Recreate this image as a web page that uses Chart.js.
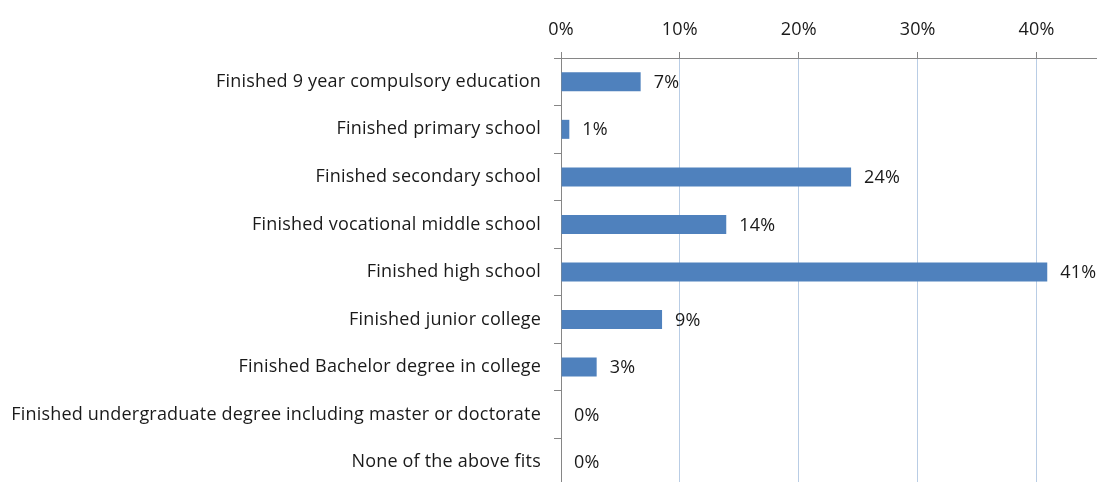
<!DOCTYPE html>
<html>
<head>
<meta charset="utf-8">
<script src="https://cdn.jsdelivr.net/npm/chart.js@4"></script>
<style>
  html, body { margin: 0; padding: 0; background: #fff; overflow: hidden; }
  #wrap { width: 1104px; height: 486px; }
</style>
</head>
<body>
<div id="wrap"><canvas id="myChart"></canvas></div>
<script>
// categories and values (percent)
const categories = [
  'Finished 9 year compulsory education',
  'Finished primary school',
  'Finished secondary school',
  'Finished vocational middle school',
  'Finished high school',
  'Finished junior college',
  'Finished Bachelor degree in college',
  'Finished undergraduate degree including master or doctorate',
  'None of the above fits'
];
const shares = [6.7, 0.7, 24.4, 13.9, 40.9, 8.5, 3.0, 0, 0];
const tickValues = [0, 10, 20, 30, 40];

const axisGray = '#868686';
const gridBlue = '#b9cde5';
const textFont = { family: 'Open Sans', size: 18 };

// a touch of letter spacing, the original text is set quite loose
const spacing = {
  id: 'spacing',
  beforeDraw(chart) { chart.ctx.letterSpacing = '0.2px'; }
};

// draws the value text just past the end of each bar
const valueLabels = {
  id: 'valueLabels',
  afterDatasetsDraw(chart) {
    const c = chart.ctx;
    const meta = chart.getDatasetMeta(0);
    c.save();
    c.font = textFont.size + 'px ' + textFont.family;
    c.fillStyle = '#1a1a1a';
    c.textBaseline = 'middle';
    meta.data.forEach(function(bar, i) {
      c.fillText(Math.round(shares[i]) + '%', bar.x + 13, bar.y + 1);
    });
    c.restore();
  }
};

let ctx = document.getElementById('myChart');
let myChart = new Chart(ctx, {
  type: 'bar',
  data: {
    labels: categories,
    datasets: [{
      data: shares,
      backgroundColor: '#4f81bd',
      borderWidth: 0,
      categoryPercentage: 1,
      barPercentage: 0.4
    }]
  },
  options: {
    indexAxis: 'y',
    responsive: true,
    maintainAspectRatio: false,
    animation: false,
    layout: { padding: { left: 0, right: 8, top: 0, bottom: 0 } },
    plugins: { legend: { display: false }, tooltip: { enabled: false } },
    scales: {
      x: {
        position: 'top',
        min: 0,
        max: 45,
        afterBuildTicks(scale) {
          scale.ticks = tickValues.map(v => ({ value: v }));
        },
        afterFit(scale) { scale.height = 58; },
        ticks: {
          callback: v => v + '%',
          color: '#1a1a1a',
          font: textFont,
          padding: 11,
          maxRotation: 0
        },
        grid: {
          color: gridBlue,
          lineWidth: 1,
          tickColor: axisGray,
          tickLength: 6
        },
        border: { color: axisGray, width: 1 }
      },
      y: {
        afterFit(scale) {
          scale.width = 561;
          scale.paddingTop = 0;
          scale.paddingBottom = 0;
        },
        ticks: {
          color: '#1a1a1a',
          font: textFont,
          padding: 13
        },
        grid: {
          drawOnChartArea: false,
          tickColor: axisGray,
          tickLength: 7
        },
        border: { color: axisGray, width: 1 }
      }
    }
  },
  plugins: [spacing, valueLabels]
});
</script>
</body>
</html>
